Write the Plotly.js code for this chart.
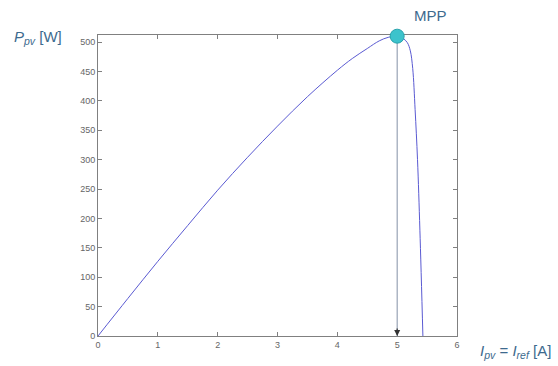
<!DOCTYPE html>
<html>
<head>
<meta charset="utf-8">
<script src="https://cdn.plot.ly/plotly-3.0.1.min.js"></script>
<style>
  html, body { margin: 0; padding: 0; background: #fff; }
  #chart { width: 558px; height: 366px; }
</style>
</head>
<body>
<div id="chart"></div>
<script>
// PV module power versus current (P-I curve)
const currentA = [0, 0.5, 1.0, 1.5, 2.0, 2.5, 3.0, 3.5, 4.0, 4.25, 4.5, 4.7, 4.85, 5.0, 5.1, 5.17, 5.22, 5.26, 5.30, 5.34, 5.38, 5.43];
const powerW   = [0, 64, 127, 188, 248, 304, 357, 407, 452, 472, 489, 502, 508, 510, 506, 499, 485, 455, 385, 300, 180, 0];

// Maximum power point
const mppCurrent = [5.0];
const mppPower = [510];

const xTicks = [0, 1, 2, 3, 4, 5, 6];
const yTicks = [0, 50, 100, 150, 200, 250, 300, 350, 400, 450, 500];

const labelColor = '#3d6a8e';

const traces = [
  {
    x: [mppCurrent[0], mppCurrent[0]],
    y: [mppPower[0], 0],
    mode: 'lines',
    line: { color: '#8390a6', width: 1 },
    hoverinfo: 'skip'
  },
  {
    x: currentA,
    y: powerW,
    mode: 'lines',
    line: { color: '#5a5ad2', width: 1, shape: 'spline', smoothing: 1 },
    hoverinfo: 'skip'
  },
  {
    x: mppCurrent,
    y: mppPower,
    mode: 'markers',
    cliponaxis: false,
    marker: { color: '#3cc3cc', size: 14, line: { color: '#2aa3ad', width: 1 } },
    hoverinfo: 'skip'
  }
];

const axisCommon = {
  showgrid: false,
  zeroline: false,
  showline: true,
  linecolor: '#808080',
  linewidth: 1,
  mirror: 'ticks',
  ticks: 'inside',
  ticklen: 4,
  tickcolor: '#808080',
  layer: 'below traces',
  tickfont: { family: 'Liberation Sans, Arial, sans-serif', size: 9, color: '#666' }
};

const layout = {
  width: 558,
  height: 366,
  margin: { l: 98, r: 101, t: 35, b: 30 },
  paper_bgcolor: '#fff',
  plot_bgcolor: '#fff',
  showlegend: false,
  xaxis: Object.assign({}, axisCommon, {
    range: [0, 6],
    tickvals: xTicks,
    ticktext: xTicks.map(String)
  }),
  yaxis: Object.assign({}, axisCommon, {
    range: [0, 512],
    tickvals: yTicks,
    ticktext: yTicks.map(String)
  }),
  annotations: [
    {
      x: mppCurrent[0], y: 0, xref: 'x', yref: 'y',
      ax: 0, ay: -9, showarrow: true,
      arrowhead: 2, arrowsize: 1, arrowwidth: 1.2, arrowcolor: '#333', text: ''
    },
    {
      x: 430, y: 15, xref: 'paper', yref: 'paper',
      text: 'MPP', showarrow: false,
      font: { family: 'Liberation Sans, Arial, sans-serif', size: 15, color: labelColor }
    },
    {
      x: 38, y: 37, xref: 'paper', yref: 'paper',
      text: '<i>P</i><sub><i>pv</i></sub> [W]', showarrow: false,
      font: { family: 'Liberation Sans, Arial, sans-serif', size: 15, color: labelColor }
    },
    {
      x: 515, y: 351, xref: 'paper', yref: 'paper',
      text: '<i>I</i><sub><i>pv</i></sub> = <i>I</i><sub><i>ref</i></sub> [A]', showarrow: false,
      font: { family: 'Liberation Sans, Arial, sans-serif', size: 15, color: labelColor }
    }
  ]
};

// Annotation positions above are in pixels; convert them to paper fractions.
const plotW = layout.width - layout.margin.l - layout.margin.r;
const plotH = layout.height - layout.margin.t - layout.margin.b;
layout.annotations.forEach(a => {
  if (a.xref === 'paper') {
    a.x = (a.x - layout.margin.l) / plotW;
    a.y = (layout.height - layout.margin.b - a.y) / plotH;
    a.xanchor = 'center';
    a.yanchor = 'middle';
  }
});

Plotly.newPlot('chart', traces, layout, { staticPlot: true, displayModeBar: false });
</script>
</body>
</html>
